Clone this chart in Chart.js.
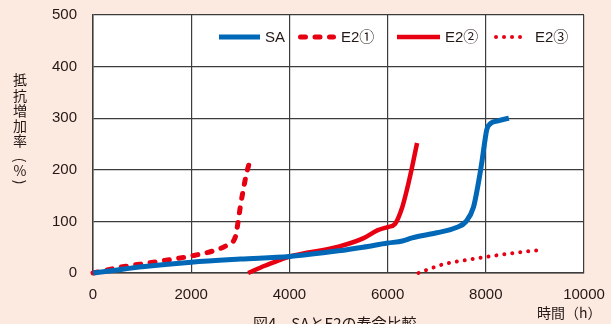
<!DOCTYPE html>
<html>
<head>
    <meta charset="utf-8">
    <title>SAとE2の寿命比較</title>
    <script src="https://cdn.jsdelivr.net/npm/chart.js@4.4.1/dist/chart.umd.min.js"></script>
    <style>
        body { margin: 0; background: #fce9e0; }
        #stage { display: block; }
    </style>
</head>
<body>
<canvas id="stage" width="611" height="324"></canvas>
<script>
    // 読み取り値（時間 h / 抵抗増加率 %）
    var saHours  = [0, 500, 1000, 2000, 3000, 4000, 5000, 5500, 6000, 6300, 6500, 7000, 7400, 7600, 7750, 7850, 7920, 7980, 8020, 8100, 8250, 8470];
    var saRate   = [0, 6, 12, 21, 27, 32, 43, 50, 58, 62, 68, 78, 88, 100, 128, 175, 215, 255, 278, 290, 295, 300];
    var e21Hours = [0, 600, 1100, 2000, 2450, 2730, 2900, 2940, 3000, 3060, 3130, 3220];
    var e21Rate  = [0, 12, 19, 33, 43, 54, 70, 90, 128, 161, 194, 225];
    var e22Hours = [3160, 3500, 3800, 4000, 5000, 5500, 5800, 6000, 6150, 6300, 6400, 6500, 6600];
    var e22Rate  = [0, 14, 25, 32, 51, 67, 83, 89, 95, 128, 164, 206, 252];
    var e23Hours = [6630, 6800, 7140, 7600, 8000, 8500, 9060];
    var e23Rate  = [0, 6, 17, 25, 31, 38, 44];
    var seriesNames = ['SA', 'E2①', 'E2②', 'E2③'];
    var xTicks = [0, 2000, 4000, 6000, 8000, 10000];
    var yTicks = [0, 100, 200, 300, 400, 500];

    var blue = '#0068b7';
    var red = '#e60012';
    var ink = '#231815';
    var FONT = "'Liberation Sans', 'Noto Sans CJK JP', sans-serif";

    function pts(xs, ys) {
        var out = [];
        for (var i = 0; i < xs.length; i++) out.push({x: xs[i], y: ys[i]});
        return out;
    }

    // 白いプロット面
    var plotBg = {
        id: 'plotBg',
        beforeDraw: function(chart) {
            var a = chart.chartArea, ctx = chart.ctx;
            ctx.save();
            ctx.fillStyle = '#fce9e0';
            ctx.fillRect(0, 0, chart.width, chart.height);
            ctx.fillStyle = '#ffffff';
            ctx.fillRect(a.left, a.top, a.right - a.left, a.bottom - a.top);
            ctx.restore();
        }
    };

    // 凡例・軸タイトル・図番号
    var legendX = [219, 298, 397, 494];
    var sampleLen = [41, 38, 43, 36];
    var extras = {
        id: 'extras',
        afterDraw: function(chart) {
            var ctx = chart.ctx;
            ctx.save();
            chart.data.datasets.forEach(function(ds, i) {
                var x0 = legendX[i], y = 37;
                ctx.beginPath();
                ctx.strokeStyle = ds.borderColor;
                ctx.lineWidth = ds.borderWidth;
                ctx.lineCap = ds.borderCapStyle || 'butt';
                ctx.setLineDash(ds.borderDash || []);
                var inset = ds.borderCapStyle === 'round' ? ds.borderWidth / 2 : 0;
                ctx.moveTo(x0 + inset, y);
                ctx.lineTo(x0 + sampleLen[i] - inset, y);
                ctx.stroke();
                ctx.setLineDash([]);
                ctx.fillStyle = ink;
                ctx.font = '15px ' + FONT;
                ctx.textBaseline = 'middle';
                ctx.textAlign = 'left';
                ctx.fillText(ds.label, x0 + sampleLen[i] + 5, y + 1);
            });

            // 縦書きの軸タイトル
            var chars = ['抵', '抗', '増', '加', '率', '(', '%', ')'];
            var ys = [80, 96, 111, 126, 141, 160, 171, 182];
            ctx.font = "14px 'Noto Sans CJK JP', sans-serif";
            ctx.textAlign = 'center';
            ctx.textBaseline = 'middle';
            ctx.fillStyle = ink;
            chars.forEach(function(c, i) {
                if (c === '(' || c === ')') {
                    ctx.save();
                    ctx.translate(20, ys[i]);
                    ctx.rotate(Math.PI / 2);
                    ctx.fillText(c, 0, 0);
                    ctx.restore();
                } else {
                    ctx.fillText(c, 20, ys[i]);
                }
            });

            ctx.textAlign = 'left';
            ctx.fillText('時間（h）', 537, 313);

            ctx.font = "15px 'Noto Sans CJK JP', sans-serif";
            ctx.textBaseline = 'top';
            ctx.fillText('図4　SAとE2の寿命比較', 253, 316);
            ctx.restore();
        }
    };

    var gridColor = '#3c3c3c';

    var chart = new Chart(document.getElementById('stage'), {
        type: 'line',
        data: {
            datasets: [
                {
                    label: seriesNames[0],
                    data: pts(saHours, saRate),
                    borderColor: blue,
                    borderWidth: 5,
                    cubicInterpolationMode: 'monotone'
                },
                {
                    label: seriesNames[1],
                    data: pts(e21Hours, e21Rate),
                    borderColor: red,
                    borderWidth: 5,
                    borderDash: [5, 9.5],
                    borderCapStyle: 'round',
                    cubicInterpolationMode: 'monotone'
                },
                {
                    label: seriesNames[2],
                    data: pts(e22Hours, e22Rate),
                    borderColor: red,
                    borderWidth: 4.5,
                    cubicInterpolationMode: 'monotone'
                },
                {
                    label: seriesNames[3],
                    data: pts(e23Hours, e23Rate),
                    borderColor: red,
                    borderWidth: 4,
                    borderDash: [0.01, 8],
                    borderCapStyle: 'round',
                    cubicInterpolationMode: 'monotone'
                }
            ]
        },
        options: {
            responsive: false,
            animation: false,
            clip: false,
            layout: { padding: { left: 0, right: 27, top: 15, bottom: 0 } },
            elements: { point: { radius: 0 } },
            plugins: {
                legend: { display: false },
                tooltip: { enabled: false }
            },
            scales: {
                x: {
                    type: 'linear',
                    min: 0,
                    max: 10000,
                    afterBuildTicks: function(s) { s.ticks = xTicks.map(function(v) { return {value: v}; }); },
                    afterFit: function(s) { s.height = 51; s.paddingLeft = 0; s.paddingRight = 0; },
                    grid: { color: gridColor, lineWidth: 1.2, drawTicks: false },
                    border: { color: gridColor, width: 1.5 },
                    ticks: {
                        color: ink, font: { size: 15, family: FONT }, padding: 13, maxRotation: 0,
                        callback: function(v) { return String(v); }
                    }
                },
                y: {
                    min: 0,
                    max: 500,
                    afterBuildTicks: function(s) { s.ticks = yTicks.map(function(v) { return {value: v}; }); },
                    afterFit: function(s) { s.width = 93; s.paddingTop = 0; s.paddingBottom = 0; },
                    grid: { color: gridColor, lineWidth: 1.2, drawTicks: false },
                    border: { color: gridColor, width: 1.5 },
                    ticks: { color: ink, font: { size: 15, family: FONT }, padding: 16 }
                }
            }
        },
        plugins: [plotBg, extras]
    });
</script>
</body>
</html>
